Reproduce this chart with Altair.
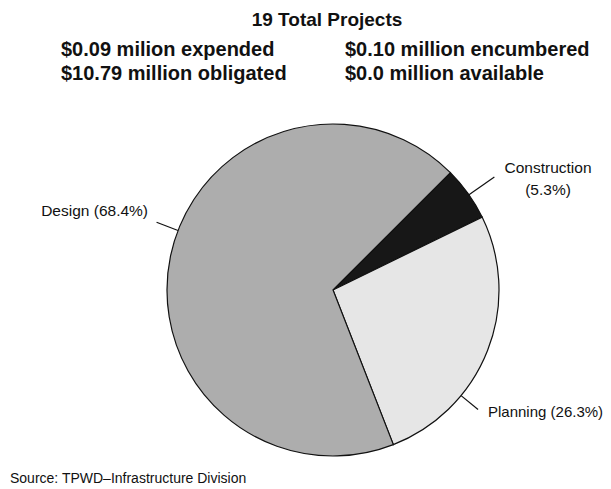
import altair as alt
import pandas as pd
import numpy as np

# ---------------- data ----------------
categories = ["Construction", "Planning", "Design"]
projects = [1, 5, 13]
pct_labels = ["(5.3%)", "(26.3%)", "(68.4%)"]
title_text = "19 Total Projects"
summary_left = ["$0.09 milion expended", "$10.79 million obligated"]
summary_right = ["$0.10 million encumbered", "$0.0 million available"]
source_text = "Source: TPWD\u2013Infrastructure Division"

# ---------------- layout / style ----------------
W, H = 595, 481
CX, CY, R = 325, 282, 166
START_DEG = 45
FONT = "Liberation Sans"
fills = ["#171717", "#e6e6e6", "#adadad"]
leader_angle = {"Construction": 55, "Planning": 129.5, "Design": 291}
leader_outer = {"Construction": 197, "Planning": 188, "Design": 189}

pie_df = pd.DataFrame({"category": categories, "projects": projects,
                       "order": list(range(len(categories)))})

start = np.deg2rad(START_DEG)
pie = alt.Chart(pie_df).mark_arc(stroke="#111111", strokeWidth=1.2, outerRadius=R).encode(
    theta=alt.Theta("projects:Q", stack=True,
                    scale=alt.Scale(range=[start, start + 2 * np.pi])),
    order=alt.Order("order:Q", sort="ascending"),
    color=alt.Color("category:N", scale=alt.Scale(domain=categories, range=fills), legend=None),
    x=alt.value(CX), y=alt.value(CY),
)

# leader lines computed from pie geometry
rows = []
for c in categories:
    a = np.deg2rad(leader_angle[c])
    rows.append({
        "x": CX + R * np.sin(a), "y": CY - R * np.cos(a),
        "x2": CX + leader_outer[c] * np.sin(a), "y2": CY - leader_outer[c] * np.cos(a),
    })
lead_df = pd.DataFrame(rows)
leaders = alt.Chart(lead_df).mark_rule(color="#111111", strokeWidth=1.2).encode(
    x=alt.X("x:Q", scale=None), y=alt.Y("y:Q", scale=None),
    x2="x2:Q", y2="y2:Q",
)


def text_layer(df, align, size, weight="normal"):
    return alt.Chart(df).mark_text(
        align=align, baseline="middle", font=FONT, fontSize=size,
        fontWeight=weight, color="#111111"
    ).encode(
        x=alt.X("x:Q", scale=None), y=alt.Y("y:Q", scale=None), text="t:N"
    )


lab_center = pd.DataFrame({"x": [540, 540], "y": [160, 182],
                           "t": [categories[0], pct_labels[0]]})
lab_left = pd.DataFrame({"x": [480], "y": [404],
                         "t": [f"{categories[1]} {pct_labels[1]}"]})
lab_right = pd.DataFrame({"x": [140], "y": [203],
                          "t": [f"{categories[2]} {pct_labels[2]}"]})

title_df = pd.DataFrame({"x": [319], "y": [12], "t": [title_text]})
sumL_df = pd.DataFrame({"x": [53, 53], "y": [42, 66], "t": summary_left})
sumR_df = pd.DataFrame({"x": [337, 337], "y": [42, 66], "t": summary_right})
src_df = pd.DataFrame({"x": [2], "y": [471], "t": [source_text]})

chart = alt.layer(
    pie,
    leaders,
    text_layer(lab_center, "center", 15.5),
    text_layer(lab_left, "left", 15),
    text_layer(lab_right, "right", 15.5),
    text_layer(title_df, "center", 19, "bold"),
    text_layer(sumL_df, "left", 20, "bold"),
    text_layer(sumR_df, "left", 20, "bold"),
    text_layer(src_df, "left", 14),
).properties(
    width=W, height=H, autosize=alt.AutoSizeParams(type="none"), padding=0
).configure(background="white", view=alt.ViewConfig(stroke=None))

chart.save("out.html", embed_options={"renderer": "svg", "actions": False})
